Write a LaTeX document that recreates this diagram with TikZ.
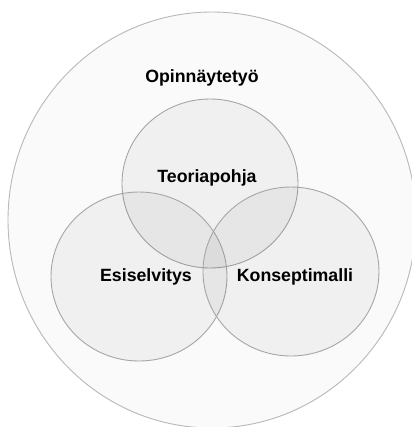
\documentclass[tikz,border=0pt]{standalone}
\usepackage{fontspec}
\setmainfont{Liberation Sans}
\begin{document}
\begin{tikzpicture}[x=1bp,y=-1bp,
  outer/.style={draw=black!28,fill=black!2,line width=0.9bp},
  inner/.style={draw=black!35,fill=black,fill opacity=0.04,line width=0.9bp},
  lbl/.style={font=\fontsize{17.8}{20}\bfseries\selectfont,text=black,inner sep=0pt}]
\useasboundingbox (0,0) rectangle (412,427);
\fill[white] (0,0) rectangle (412,427);
\draw[outer] (212,220) ellipse [x radius=204, y radius=208];
\draw[inner] (210,183.5) ellipse [x radius=88, y radius=84.5];
\draw[inner] (139,276.5) ellipse [x radius=88, y radius=84.5];
\draw[inner] (291,271.5) ellipse [x radius=88, y radius=84.5];
\node[lbl] (opin) at (202,78) {Opinnäytetyö};
\node[lbl] (teor) at (207,178) {Teoriapohja};
\node[lbl] (esis) at (146,277) {Esiselvitys};
\node[lbl] (kons) at (295,277) {Konseptimalli};
\end{tikzpicture}
\end{document}
